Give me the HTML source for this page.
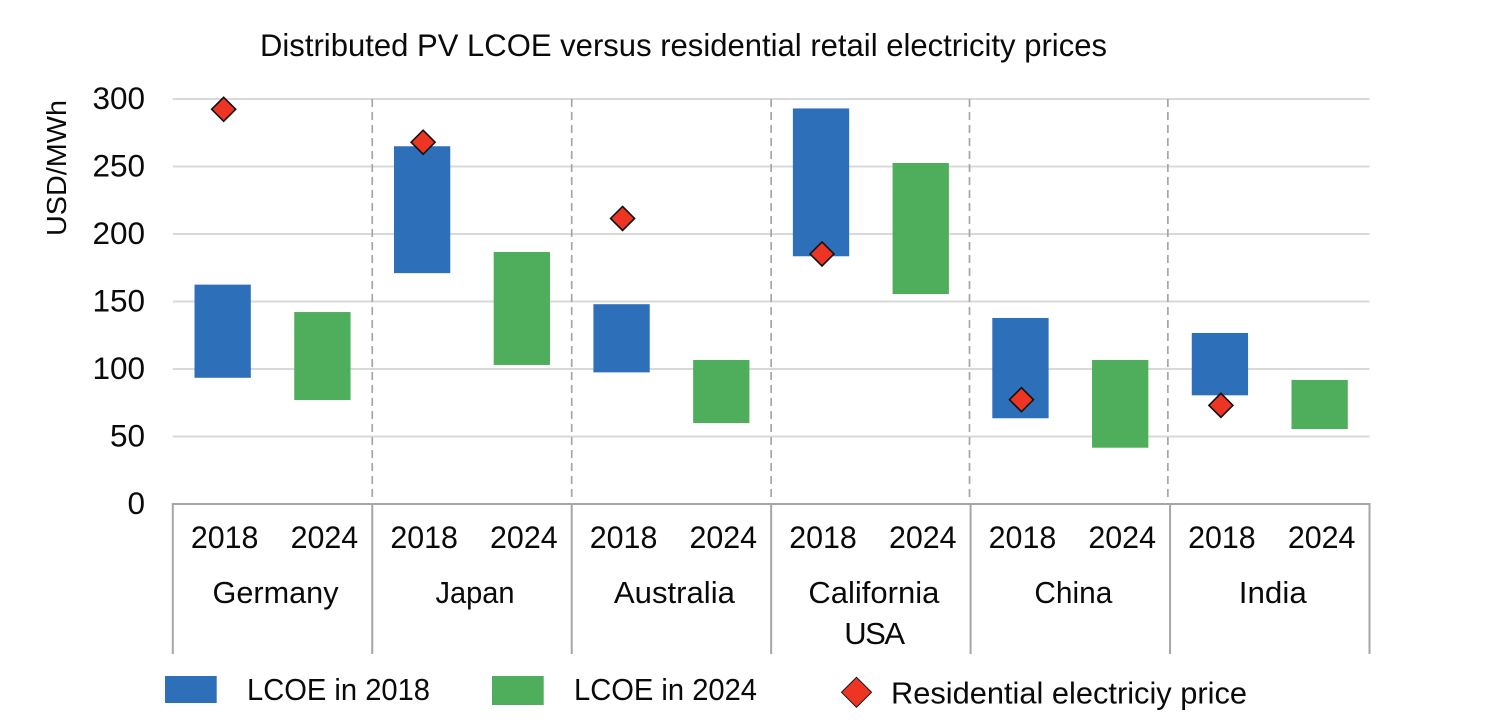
<!DOCTYPE html>
<html>
<head>
<meta charset="utf-8">
<style>
html,body{margin:0;padding:0;background:#fff;}
svg{display:block;}
text{font-family:"Liberation Sans",sans-serif;fill:#0a0a0a;}
</style>
</head>
<body>
<svg id="chart" width="1502" height="728" viewBox="0 0 1502 728" xmlns="http://www.w3.org/2000/svg"></svg>
<script>
const countries = ["Germany", "Japan", "Australia", "California|USA", "China", "India"];
const years = ["2018", "2024"];
const low2018 = [93.5, 171, 97.5, 183.5, 63.5, 80.5];
const high2018 = [162.5, 265, 148, 293, 137.8, 126.7];
const low2024 = [77, 103, 60, 155.5, 41.7, 55.5];
const high2024 = [142.2, 186.7, 106.7, 252.6, 106.7, 91.9];
const price = [292.4, 268, 211.5, 185.2, 77.3, 73.1];
const yTicks = [0, 50, 100, 150, 200, 250, 300];

const svg = document.getElementById('chart');
const NS = 'http://www.w3.org/2000/svg';
const plotL = 172.8, plotR = 1369.5, y0 = 504, y300 = 99;
const yS = v => y0 - (v / 300) * (y0 - y300);
const groupW = (plotR - plotL) / countries.length;
const xS = (g, s) => plotL + groupW * (g + (s + 0.5) / 2);

function mk(tag, attrs, name) {
  const el = document.createElementNS(NS, tag);
  for (const k in attrs) el.setAttribute(k, attrs[k]);
  
  
  svg.appendChild(el);
  return el;
}
function txt(x, y, s, size, anchor, name, fitWidth, extra) {
  const attrs = Object.assign({x: x, y: y, 'font-size': size, 'text-anchor': anchor}, extra || {});
  if (fitWidth) {
    attrs.textLength = fitWidth;
    attrs.lengthAdjust = 'spacingAndGlyphs';
  }
  const t = mk('text', attrs, name);
  t.textContent = s;
  return t;
}
function diamond(cx, cy, r, sw, name) {
  return mk('polygon', {points: `${cx},${cy-r} ${cx+r},${cy} ${cx},${cy+r} ${cx-r},${cy}`, fill: '#ee3524', stroke: '#111', 'stroke-width': sw}, name);
}

txt(683.5, 56, 'Distributed PV LCOE versus residential retail electricity prices', 31.5, 'middle', 'chart-title', 847);
txt(0, 0, 'USD/MWh', 28, 'middle', 'y-axis-title', 136, {transform: 'translate(66,168) rotate(-90)'});

yTicks.forEach(v => {
  if (v > 0) mk('line', {x1: plotL, x2: plotR, y1: yS(v), y2: yS(v), stroke: '#d9d9d9', 'stroke-width': 2}, 'gridline-' + v);
  txt(145, yS(v) + 10, String(v), 31.5, 'end', 'y-tick-' + v);
});

for (let i = 1; i < countries.length; i++) {
  const x = plotL + groupW * i - Math.max(0, i - 3) * 1.1;
  mk('line', {x1: x, x2: x, y1: y300, y2: 500, stroke: '#a6a6a6', 'stroke-width': 1.7, 'stroke-dasharray': '8 5'}, 'group-divider-' + i);
}

mk('line', {x1: plotL - 1, x2: plotR + 1, y1: y0, y2: y0, stroke: '#a6a6a6', 'stroke-width': 2}, 'x-axis-line');
for (let i = 0; i <= countries.length; i++) {
  const x = plotL + groupW * i;
  mk('line', {x1: x, x2: x, y1: y0, y2: 654, stroke: '#a6a6a6', 'stroke-width': 2}, 'x-axis-separator-' + i);
}

const barW = 56.3;
const labelFit = {Germany: 126, Japan: 79, Australia: 121, California: 131, China: 78, India: 68};
countries.forEach((c, g) => {
  const slug = c.split('|')[0].toLowerCase();
  mk('rect', {x: xS(g, 0) - barW / 2, y: yS(high2018[g]), width: barW, height: yS(low2018[g]) - yS(high2018[g]), fill: '#2d70b9'}, 'bar-2018-' + slug);
  mk('rect', {x: xS(g, 1) - barW / 2, y: yS(high2024[g]), width: barW, height: yS(low2024[g]) - yS(high2024[g]), fill: '#4fae5c'}, 'bar-2024-' + slug);
  years.forEach((yr, s) => txt(xS(g, s) + 2, 548, yr, 31.5, 'middle', 'x-tick-' + yr + '-' + slug, 67.6));
  c.split('|').forEach((line, k) => txt(plotL + groupW * (g + 0.5) + 3, 603 + k * 41, line, 31, 'middle', 'category-label-' + slug + (k ? '-2' : ''), labelFit[line], k ? {'letter-spacing': -1.5} : null));
});
countries.forEach((c, g) => {
  diamond(xS(g, 0) + 1, yS(price[g]), 12, 1.6, 'price-marker-' + c.split('|')[0].toLowerCase());
});

mk('rect', {x: 165, y: 676, width: 51.7, height: 27, fill: '#2d70b9'}, 'legend-swatch-2018');
txt(247, 700, 'LCOE in 2018', 31, 'start', 'legend-label-2018', 183);
mk('rect', {x: 492, y: 676, width: 51.7, height: 29, fill: '#4fae5c'}, 'legend-swatch-2024');
txt(574, 700, 'LCOE in 2024', 31, 'start', 'legend-label-2024', 183);
diamond(856.5, 692.3, 15, 1, 'legend-marker-price');
txt(891, 703.5, 'Residential electriciy price', 31, 'start', 'legend-label-price', 356);
</script>
</body>
</html>
